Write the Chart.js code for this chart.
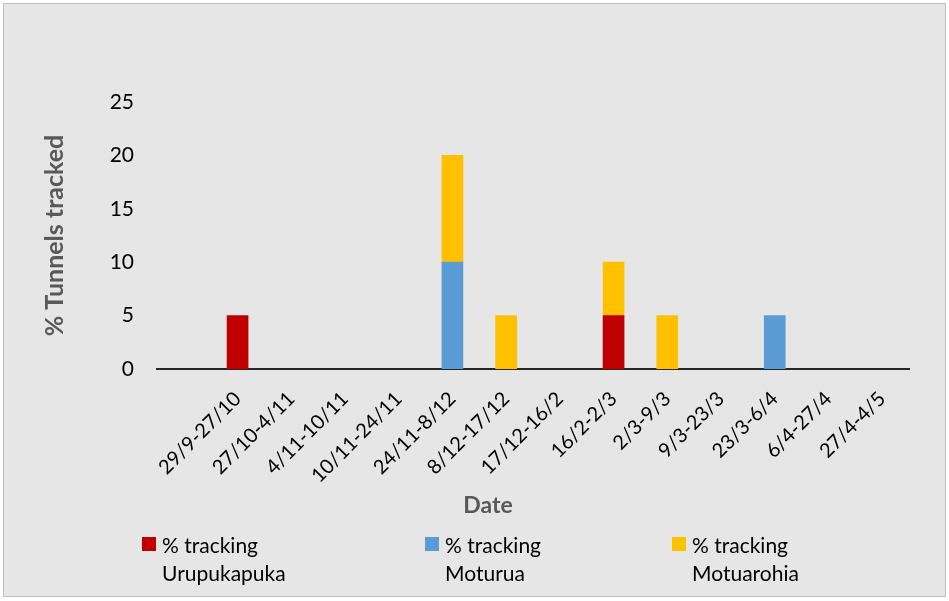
<!DOCTYPE html>
<html>
<head>
<meta charset="utf-8">
<script src="https://cdn.jsdelivr.net/npm/chart.js@4.4.1/dist/chart.umd.min.js"></script>
<style>
  html, body { margin: 0; padding: 0; background: #fff; }
  #frame {
    position: absolute; left: 3px; top: 3px; width: 943px; height: 594px;
    background: #e6e6e6; border: 1px solid #bfbfbf; box-sizing: border-box;
    font-family: Lato, 'Open Sans', sans-serif;
  }
  #chart { position: absolute; left: 0; top: 0; }
  #xTitle {
    position: absolute; left: 384px; width: 200px; top: 486px; text-align: center;
    font-size: 23px; font-weight: bold; color: #595959; line-height: 28px;
  }
  #legend { position: absolute; top: 527px; left: 0; width: 100%; font-size: 21px; color: #000; }
  .item { position: absolute; line-height: 28px; }
  .swatch { position: absolute; left: 0; top: 6px; width: 14px; height: 14px; }
  .text { margin-left: 20px; }
</style>
</head>
<body>
<div id="frame">
  <canvas id="chart" width="943" height="530"></canvas>
  <div id="xTitle">Date</div>
  <div id="legend"></div>
</div>
<script>
// ── Data ──────────────────────────────────────────────────────────────────────
const dates = ['', '29/9-27/10', '27/10-4/11', '4/11-10/11', '10/11-24/11', '24/11-8/12',
  '8/12-17/12', '17/12-16/2', '16/2-2/3', '2/3-9/3', '9/3-23/3', '23/3-6/4', '6/4-27/4', '27/4-4/5'];
const urupukapuka = [0, 5, 0, 0, 0, 0, 0, 0, 5, 0, 0, 0, 0, 0];
const moturua     = [0, 0, 0, 0, 0, 10, 0, 0, 0, 0, 0, 5, 0, 0];
const motuarohia  = [0, 0, 0, 0, 0, 10, 5, 0, 5, 5, 0, 0, 0, 0];
const yTicks = [0, 5, 10, 15, 20, 25];

const seriesNames = ['% tracking\nUrupukapuka', '% tracking\nMoturua', '% tracking\nMotuarohia'];
const seriesColors = ['#C00000', '#5B9BD5', '#FFC000'];

Chart.defaults.font.family = "Lato, 'Open Sans', sans-serif";

// zero weeks get no bar at all (avoids hairline slivers on the axis)
const ds = (i, data) => ({
  label: seriesNames[i],
  data: data.map(v => v === 0 ? null : v),
  backgroundColor: seriesColors[i],
  borderWidth: 0,
  barThickness: 21
});

new Chart(document.getElementById('chart'), {
  type: 'bar',
  data: {
    labels: dates,
    datasets: [ds(0, urupukapuka), ds(1, moturua), ds(2, motuarohia)]
  },
  options: {
    responsive: false,
    animation: false,
    layout: { padding: { left: 0, right: 38, top: 98, bottom: 0 } },
    plugins: { legend: { display: false }, tooltip: { enabled: false } },
    scales: {
      x: {
        stacked: true,
        afterFit: axis => { axis.height = 165; },
        grid: { display: false, drawTicks: false },
        border: { display: true, color: '#262626', width: 2 },
        ticks: { color: '#000', font: { size: 20 }, maxRotation: 45, minRotation: 45, padding: 18 }
      },
      y: {
        stacked: true,
        min: 0, max: 25,
        afterFit: axis => { axis.width = 153; },
        afterBuildTicks: axis => { axis.ticks = yTicks.map(v => ({ value: v })); },
        grid: { display: false, drawTicks: false },
        border: { display: false },
        ticks: { color: '#000', font: { size: 21 }, padding: 23 },
        title: { display: true, text: '% Tunnels tracked', color: '#595959', font: { size: 25, weight: 'bold' }, padding: { top: 36 } }
      }
    }
  }
});

// ── HTML legend (two-line labels) ─────────────────────────────────────────────
const legendX = [138, 421, 668];
const legend = document.getElementById('legend');
seriesNames.forEach((name, i) => {
  const el = document.createElement('div');
  el.className = 'item';
  el.style.left = legendX[i] + 'px';
  el.innerHTML = `<span class="swatch" style="background:${seriesColors[i]}"></span>` +
    `<div class="text">${name.replace('\n', '<br>')}</div>`;
  legend.appendChild(el);
});
</script>
</body>
</html>
